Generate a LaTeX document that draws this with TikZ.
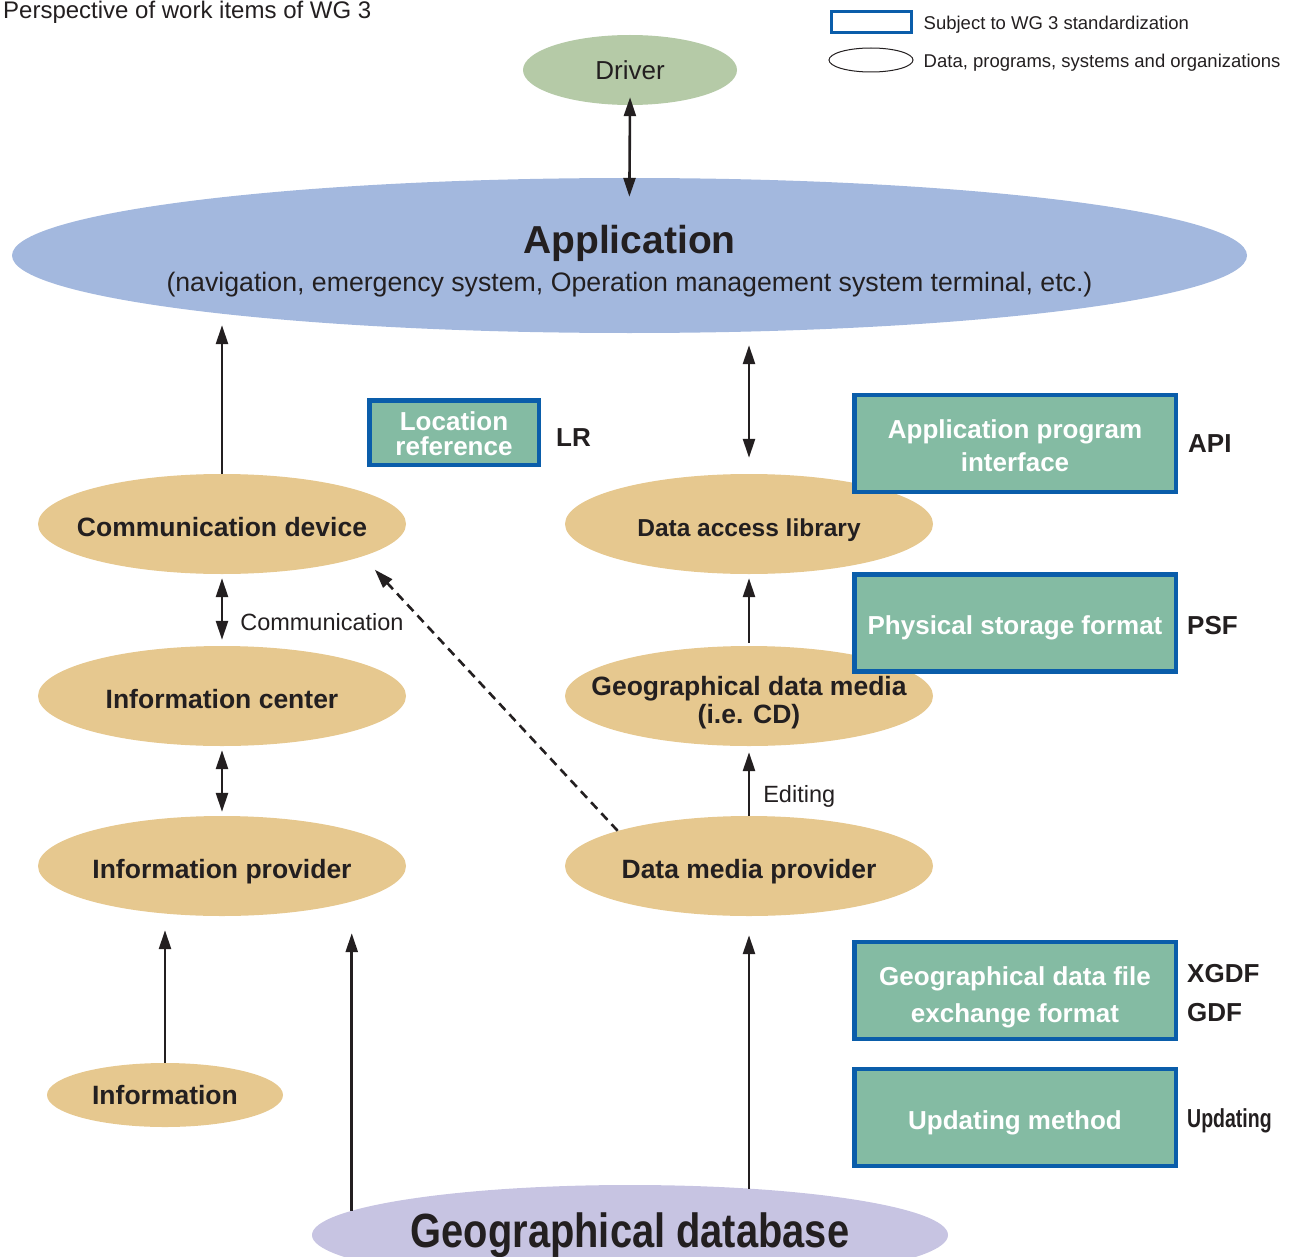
\documentclass[tikz,border=0pt]{standalone}
\usepackage{fontspec}
\setmainfont{Liberation Sans}
\usepackage{graphicx}
\usetikzlibrary{positioning,%
  shapes.geometric,%
  arrows.meta,%
  calc}

\definecolor{appblue}{HTML}{A3B8DE}
\definecolor{drvgreen}{HTML}{B5CAA7}
\definecolor{orgtan}{HTML}{E6C88F}
\definecolor{wggreen}{HTML}{84BBA3}
\definecolor{wgblue}{HTML}{0A5DAA}
\definecolor{dbviolet}{HTML}{C7C4E2}
\definecolor{inkgray}{HTML}{231F20}

\newcommand{\fsz}[2]{\fontsize{#1}{#2}\selectfont}
% mehrzeiliger Text, etwas tiefer gesetzt
\newcommand{\dropby}[2]{\raisebox{-#1}[\height][\depth]{\begin{tabular}{@{}c@{}}#2\end{tabular}}}

\begin{document}
\begin{tikzpicture}
                    [
                        x=1pt,y=-1pt,
                        every node/.style={inner sep=0pt,text=inkgray},
                        oval/.style={ellipse,fill=orgtan,minimum width=368pt,minimum height=100pt,inner xsep=-40pt,
                                     align=center,font=\fsz{26.5}{28}\bfseries,text height=24pt,text depth=0pt},
                        wgbox/.style={rectangle,draw=wgblue,line width=4.5pt,fill=wggreen,text=white,
                                      minimum width=321.5pt,minimum height=97pt,align=center,
                                      font=\fsz{26}{33}\bfseries},
                        tag/.style={align=left,font=\fsz{26}{39}\bfseries},
                        arr/.style={-{Triangle[length=19pt,width=12pt]},line width=2.6pt,draw=inkgray},
                        dbl/.style={{Triangle[length=19pt,width=12pt]}-{Triangle[length=19pt,width=12pt]},
                                    line width=2.6pt,draw=inkgray}
                    ]

                    % Rahmen
                    \useasboundingbox (0,0) rectangle (1292,1257);
                    \clip (0,0) rectangle (1292,1257);

                    \node[anchor=base west,font=\fsz{24}{28}] (title) at (3,19) {Perspective of work items of WG 3};

                    % Legende
                    \node[draw=wgblue,line width=3pt,minimum width=80pt,minimum height=21pt] (legbox) at (871,22) {};
                    \node[right=11pt of legbox,yshift=-2.5pt,font=\fsz{18.5}{22}] (legboxtxt) {Subject to WG 3 standardization};
                    \node[ellipse,draw=inkgray,line width=1pt,minimum width=84pt,minimum height=24pt] (legoval) at (871,60) {};
                    \node[right=10pt of legoval,yshift=-2.5pt,font=\fsz{18.5}{22}] (legovaltxt) {Data, programs, systems and organizations};

                    % Ellipsen
                    \node[ellipse,fill=drvgreen,minimum width=214pt,minimum height=70pt,font=\fsz{26}{30}] (drv) at (630,70) {Driver};
                    \node[ellipse,fill=appblue,minimum width=1235pt,minimum height=155pt,inner xsep=-40pt,font=\fsz{26.7}{30}] (app) at (629.5,255.5)
                        {\dropby{7.8pt}{{\fsz{39}{44}\bfseries Application}\\[8pt](navigation, emergency system, Operation management system terminal, etc.)}};

                    \node[oval] (cdev) at (222,524) {Communication device};
                    \node[oval] (infc) at (222,696) {Information center};
                    \node[oval] (infp) at (222,866) {Information provider};
                    \node[oval,font=\fsz{24.5}{29}\bfseries] (dal) at (749,524) {Data access library};
                    \node[oval,text height=,text depth=] (gdm) at (749,696) {\dropby{8pt}{Geographical data media\\(i.e. CD)}};
                    \node[oval] (dmp) at (749,866) {Data media provider};
                    \node[oval,minimum width=236pt,minimum height=64pt,text height=19pt] (info) at (165,1095) {Information};
                    \node[ellipse,fill=dbviolet,minimum width=636pt,minimum height=100pt] (geodb) at (630,1235)
                        {\scalebox{0.83}[1]{\fsz{48}{52}\bfseries Geographical database}};

                    % WG 3 Kästen
                    \node[wgbox,minimum width=169.5pt,minimum height=64.5pt,font=\fsz{26}{23}\bfseries] (lr) at (454,432.5) {\dropby{4.4pt}{Location\\reference}};
                    \node[wgbox] (api) at (1015,443.5) {\dropby{4.4pt}{Application program\\interface}};
                    \node[wgbox,text height=23pt,text depth=0pt] (psf) at (1015,623) {Physical storage format};
                    \node[wgbox,font=\fsz{26}{37}\bfseries] (xgdf) at (1015,990.5) {\dropby{5.6pt}{Geographical data file\\exchange format}};
                    \node[wgbox,text height=23pt,text depth=0pt] (upd) at (1015,1117.5) {Updating method};

                    \node[tag,right=15pt of lr,yshift=-5pt] (lrtag) {LR};
                    \node[tag,right=10pt of api] (apitag) {API};
                    \node[tag,right=9pt of psf,yshift=-3pt] (psftag) {PSF};
                    \node[tag,right=9pt of xgdf,yshift=-3pt] (xgdftag) {XGDF\\GDF};
                    \node[tag,right=9pt of upd,yshift=-3pt] (updtag) {\scalebox{0.75}[1]{Updating}};

                    % Verbindungen
                    \draw[dbl,shorten <=-8pt,shorten >=-19pt] (drv.south) -- (app.north);
                    \draw[arr,shorten >=-8pt] (cdev.north) -- (cdev.north |- app.south);
                    \draw[dbl,shorten <=16pt,shorten >=12pt] (dal.north) -- (app.south -| dal.north);
                    \draw[dbl,shorten <=4pt,shorten >=6pt] (cdev.south) -- (infc.north)
                        node[pos=.67,right=17pt,font=\fsz{23.5}{28}] (comlbl) {Communication};
                    \draw[dbl,shorten <=4pt,shorten >=4pt] (infc.south) -- (infp.north);
                    \draw[arr,shorten <=3pt,shorten >=4pt] (gdm.north) -- (dal.south);
                    \draw[arr,shorten >=6pt] (dmp.north) -- (gdm.south)
                        node[pos=.28,right=13pt,font=\fsz{23.5}{28}] (edlbl) {Editing};
                    \draw[arr,dashed,dash pattern=on 9pt off 6pt,shorten >=18pt] (dmp.165) -- (cdev.-13);
                    \draw[arr,shorten >=14pt] (info.north) -- (info.north |- infp.south);
                    \draw[arr,shorten >=17pt] (geodb.175) -- (geodb.175 |- infp.south);
                    \draw[arr,shorten <=-4pt,shorten >=19pt] (dmp.south |- geodb.north) -- (dmp.south);
                \end{tikzpicture}
\end{document}
